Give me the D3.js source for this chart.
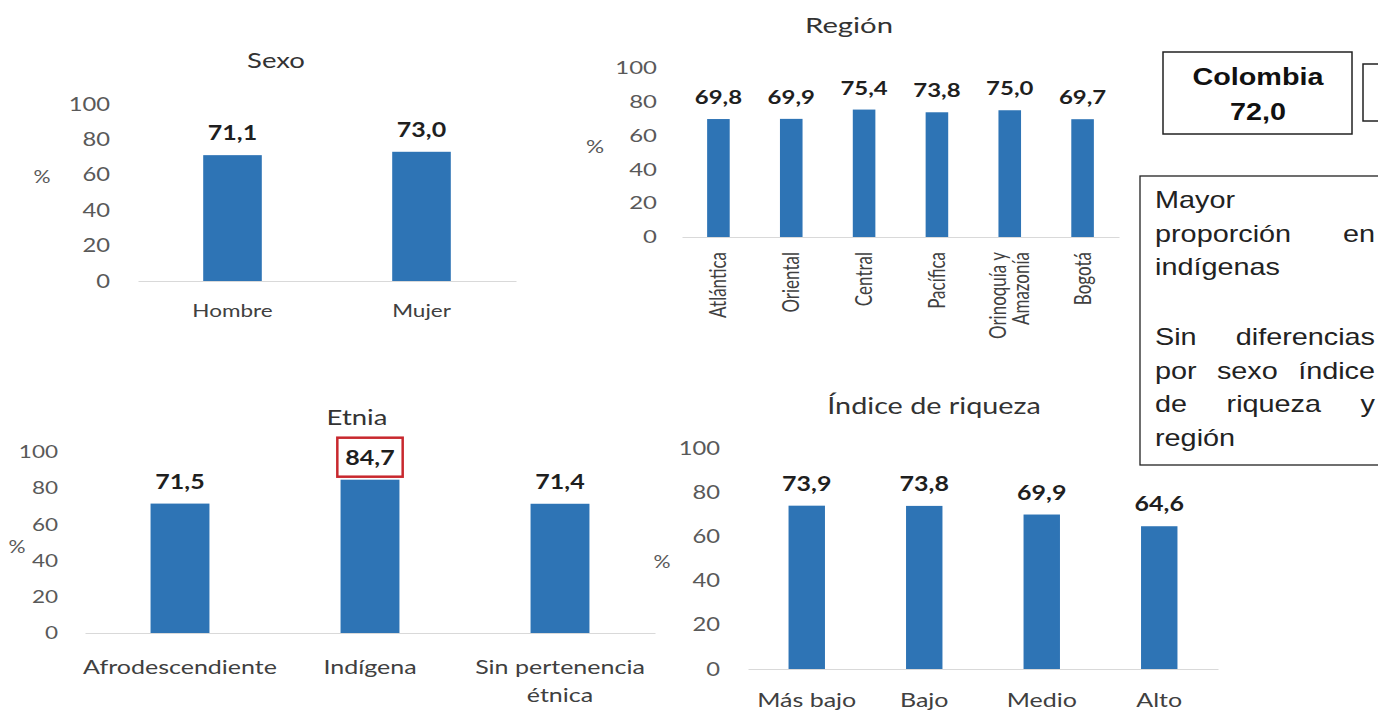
<!DOCTYPE html>
<html lang="es">
<head>
<meta charset="UTF-8">
<title>Indicador por características</title>
<script src="https://cdnjs.cloudflare.com/ajax/libs/d3/7.8.5/d3.min.js"></script>
<style>
  body { margin: 0; background: #fff; }
  svg { display: block; }
</style>
</head>
<body>
<div id="chart"></div>
<script>
// data
const yTicks = [0, 20, 40, 60, 80, 100];

const sexoCats = ["Hombre", "Mujer"];
const sexoVals = [71.1, 73.0];

const regionCats = ["Atlántica", "Oriental", "Central", "Pacífica", "Orinoquía y\nAmazonía", "Bogotá"];
const regionVals = [69.8, 69.9, 75.4, 73.8, 75.0, 69.7];

const etniaCats = ["Afrodescendiente", "Indígena", "Sin pertenencia\nétnica"];
const etniaVals = [71.5, 84.7, 71.4];
const etniaHighlight = ["Indígena"];

const riquezaCats = ["Más bajo", "Bajo", "Medio", "Alto"];
const riquezaVals = [73.9, 73.8, 69.9, 64.6];

const nationalLabel = "Colombia";
const nationalValue = 72.0;
const noteLines = [
  { words: ["Mayor"], justify: false },
  { words: ["proporción", "en"], justify: true },
  { words: ["indígenas"], justify: false },
  null,
  { words: ["Sin", "diferencias"], justify: true },
  { words: ["por", "sexo", "índice"], justify: true },
  { words: ["de", "riqueza", "y"], justify: true },
  { words: ["región"], justify: false }
];

const FONT = "Lato, 'Open Sans', sans-serif";
const BOXFONT = "'Liberation Sans', Arial, sans-serif";
const BAR = "#2e74b5";
const fmt = v => d3.format(".1f")(v).replace(".", ",");

const svg = d3.select("#chart").append("svg")
    .attr("width", 1378)
    .attr("height", 713);

// the source picture is stretched sideways, so text gets stretched too
function stretch(sel, sx) {
  sel.each(function() {
    const w = this.getComputedTextLength();
    if (w > 0) d3.select(this).attr("textLength", w * sx).attr("lengthAdjust", "spacingAndGlyphs");
  });
}

function drawPanel(p) {
  const g = svg.append("g");

  const x = d3.scaleBand()
      .domain(p.cats)
      .range([p.x0, p.x1])
      .paddingInner(0.69)
      .paddingOuter(0.345);

  const y = d3.scaleLinear()
      .domain([0, 100])
      .range([p.yBase, p.yTop]);

  // title
  const t = g.append("text")
      .attr("x", p.titleX).attr("y", p.titleY)
      .attr("text-anchor", "middle")
      .attr("font-family", FONT).attr("font-size", p.titleSize)
      .attr("fill", "#333")
      .text(p.title);
  stretch(t, p.sx);

  // % label
  const pc = g.append("text")
      .attr("x", p.pctX).attr("y", p.pctY).attr("dy", "0.35em")
      .attr("text-anchor", "middle")
      .attr("font-family", FONT).attr("font-size", 17)
      .attr("fill", "#595959")
      .text("%");
  stretch(pc, p.sx);

  // y axis (labels only)
  const ya = g.append("g")
      .attr("transform", `translate(${p.x0},0)`)
      .call(d3.axisLeft(y).tickValues(yTicks).tickSize(0).tickPadding(p.tickPad));
  ya.select(".domain").remove();
  ya.selectAll("text")
      .attr("font-family", FONT).attr("font-size", p.tickSize)
      .attr("fill", "#595959");
  stretch(ya.selectAll("text"), p.sx);

  // x axis
  const xa = g.append("g")
      .attr("transform", `translate(0,${p.yBase})`)
      .call(d3.axisBottom(x).tickSize(0).tickPadding(p.catPad));
  xa.select(".domain").attr("stroke", "#d9d9d9").attr("stroke-width", 1.2);

  xa.selectAll(".tick").each(function(d) {
    const tick = d3.select(this);
    const lines = d.split("\n");
    const txt = tick.select("text")
        .text(lines[0])
        .attr("font-family", FONT).attr("font-size", p.catSize)
        .attr("fill", "#404040");
    if (p.rotate) {
      // rotated labels: widen the glyphs across the screen like the source
      const rot = `rotate(-90) scale(1,${p.sx})`;
      const off = lines.length > 1 ? -p.rotLine / 2 : 0;
      txt.attr("transform", rot)
          .attr("text-anchor", "end")
          .attr("x", -p.catPad).attr("y", off).attr("dy", "0.35em");
      lines.slice(1).forEach((ln, i) => {
        tick.append("text")
            .attr("transform", rot)
            .attr("text-anchor", "end")
            .attr("x", -p.catPad).attr("y", off + p.rotLine * (i + 1)).attr("dy", "0.35em")
            .attr("font-family", FONT).attr("font-size", p.catSize)
            .attr("fill", "#404040")
            .text(ln);
      });
    } else {
      stretch(txt, p.sx);
      lines.slice(1).forEach((ln, i) => {
        const t2 = tick.append("text")
            .attr("y", p.catPad + p.lineH * (i + 1)).attr("dy", "0.71em")
            .attr("font-family", FONT).attr("font-size", p.catSize)
            .attr("fill", "#404040")
            .text(ln);
        stretch(t2, p.sx);
      });
    }
  });

  // bars
  g.selectAll("rect.bar")
    .data(p.vals)
    .join("rect")
      .attr("class", "bar")
      .attr("x", (d, i) => x(p.cats[i]))
      .attr("width", x.bandwidth())
      .attr("y", d => y(d))
      .attr("height", d => y(0) - y(d))
      .attr("fill", BAR);

  // value labels
  const vl = g.selectAll("text.val")
    .data(p.vals)
    .join("text")
      .attr("class", "val")
      .attr("x", (d, i) => x(p.cats[i]) + x.bandwidth() / 2)
      .attr("y", d => y(d) - 15)
      .attr("text-anchor", "middle")
      .attr("font-family", FONT).attr("font-size", p.valSize)
      .attr("font-weight", "bold")
      .attr("fill", "#1f1f1f")
      .text(fmt);
  stretch(vl, p.sx);

  // highlighted value
  if (p.highlight) {
    vl.each(function(d, i) {
      if (!p.highlight.includes(p.cats[i])) return;
      const bb = this.getBBox();
      g.append("rect")
          .attr("x", bb.x - 8).attr("y", bb.y - 7)
          .attr("width", bb.width + 16).attr("height", bb.height + 15)
          .attr("fill", "none")
          .attr("stroke", "#c8282e")
          .attr("stroke-width", 2.5);
    });
  }
}

drawPanel({
  cats: sexoCats, vals: sexoVals, title: "Sexo",
  x0: 138, x1: 516, yBase: 281, yTop: 104,
  titleX: 276, titleY: 68, titleSize: 22,
  pctX: 42, pctY: 177,
  tickPad: 28, tickSize: 19, valSize: 20, catSize: 18, catPad: 23, lineH: 28,
  sx: 1.25
});

drawPanel({
  cats: regionCats, vals: regionVals, title: "Región",
  x0: 682, x1: 1119, yBase: 237, yTop: 68,
  titleX: 849, titleY: 33, titleSize: 22,
  pctX: 595, pctY: 147,
  tickPad: 25, tickSize: 18, valSize: 18, catSize: 17, catPad: 15, rotate: true, rotLine: 17,
  sx: 1.33
});

drawPanel({
  cats: etniaCats, vals: etniaVals, title: "Etnia", highlight: etniaHighlight,
  x0: 85, x1: 655, yBase: 633, yTop: 452,
  titleX: 357, titleY: 425, titleSize: 22,
  pctX: 17, pctY: 547,
  tickPad: 27, tickSize: 18, valSize: 20, catSize: 20, catPad: 27, lineH: 28,
  sx: 1.25
});

drawPanel({
  cats: riquezaCats, vals: riquezaVals, title: "Índice de riqueza",
  x0: 748, x1: 1218, yBase: 669, yTop: 448,
  titleX: 934, titleY: 414, titleSize: 23,
  pctX: 662, pctY: 562,
  tickPad: 28, tickSize: 19, valSize: 20, catSize: 20, catPad: 24, lineH: 28,
  sx: 1.25
});

// national value box
svg.append("rect")
    .attr("x", 1163).attr("y", 52).attr("width", 189).attr("height", 82)
    .attr("fill", "none").attr("stroke", "#222").attr("stroke-width", 1.5);
const nat = svg.append("g")
    .attr("font-family", BOXFONT).attr("font-size", 23).attr("font-weight", "bold")
    .attr("fill", "#111").attr("text-anchor", "middle");
const n1 = nat.append("text").attr("x", 1258).attr("y", 85).text(nationalLabel);
const n2 = nat.append("text").attr("x", 1258).attr("y", 120).text(fmt(nationalValue));
stretch(n1, 1.25);
stretch(n2, 1.25);

// cut-off box at the right edge
svg.append("rect")
    .attr("x", 1363).attr("y", 64).attr("width", 40).attr("height", 57)
    .attr("fill", "none").attr("stroke", "#222").attr("stroke-width", 1.5);

// note box
svg.append("rect")
    .attr("x", 1140).attr("y", 176).attr("width", 260).attr("height", 289)
    .attr("fill", "none").attr("stroke", "#222").attr("stroke-width", 1.3);

const noteLeft = 1155, noteRight = 1375, noteSx = 1.2;
const lineY = d3.scaleLinear().domain([0, 1]).range([208, 241.5]);
const note = svg.append("g")
    .attr("font-family", BOXFONT).attr("font-size", 24).attr("fill", "#222");

noteLines.forEach((ln, li) => {
  if (!ln) return;
  const yy = lineY(li) + (li > 3 ? 3 : 0);
  const words = ln.words.map(w => {
    const t = note.append("text").attr("y", yy).text(w);
    const w0 = t.node().getComputedTextLength();
    t.attr("textLength", w0 * noteSx).attr("lengthAdjust", "spacingAndGlyphs");
    return { t, w: w0 * noteSx };
  });
  if (ln.justify && words.length > 1) {
    const total = d3.sum(words, d => d.w);
    const gap = (noteRight - noteLeft - total) / (words.length - 1);
    let cx = noteLeft;
    words.forEach(d => { d.t.attr("x", cx); cx += d.w + gap; });
  } else {
    let cx = noteLeft;
    words.forEach(d => { d.t.attr("x", cx); cx += d.w + 7; });
  }
});
</script>
</body>
</html>
